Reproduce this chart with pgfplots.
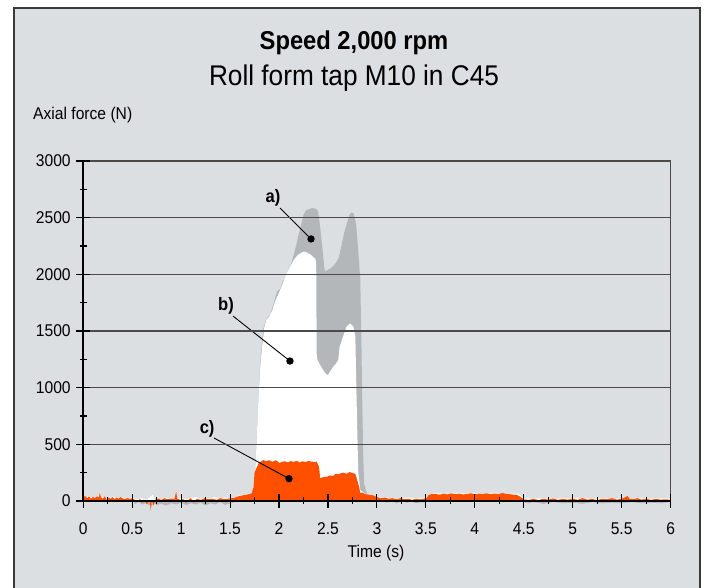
\documentclass[border=0pt]{standalone}
\usepackage{fontspec}
\setmainfont{Liberation Sans}[FakeStretch=0.92]
\usepackage{pgfplots}
\pgfplotsset{compat=1.18}
\definecolor{bg}{HTML}{DCDFE2}
\definecolor{agrey}{HTML}{B4B7BA}
\definecolor{corange}{HTML}{FF5000}
\definecolor{gridc}{HTML}{4A4A4A}
\definecolor{framec}{HTML}{3A3A3A}
\begin{document}
\begin{tikzpicture}[x=1pt,y=1pt]
\useasboundingbox (0,0) rectangle (706,588);
\fill[bg] (14,0) rectangle (700,580);
\draw[framec, line width=2.2] (14,0) -- (14,580) -- (700,580) -- (700,0);
\node[font=\bfseries\fontsize{25.8}{30}\selectfont] at (354,545) {Speed 2,000 rpm};
\node[font=\fontsize{28.5}{32}\selectfont] at (354,510) {Roll form tap M10 in C45};
\node[font=\fontsize{17}{20}\selectfont, anchor=west, inner sep=0pt] at (33,473) {Axial force (N)};
\node[font=\fontsize{17}{20}\selectfont] at (376,35) {Time (s)};
\begin{axis}[
  at={(83.2pt,87pt)}, anchor=south west,
  width=587.4pt, height=340pt, scale only axis,
  xmin=0, xmax=6, ymin=0, ymax=3000,
  clip=false, axis on top,
  axis x line*=bottom, axis y line*=left,
  axis line style={black, line width=2pt},
  xtick={0,0.5,...,6}, ytick={0,500,...,3000},
  minor x tick num=1, minor y tick num=1,
  tick align=center,
  major tick length=14pt, minor tick length=7pt,
  every tick/.style={black, line width=1.1pt},
  ymajorgrids, major grid style={gridc, line width=1.2pt},
  tick label style={font=\fontsize{17}{20}\selectfont},
  xticklabel style={yshift=-11pt},
  yticklabel style={xshift=-2pt},
  /pgf/number format/.cd, 1000 sep={}, assume math mode=true,
]
\addplot[fill=agrey, draw=none] coordinates {
(0,15)(0.05,10)(0.1,20)(0.15,5)(0.2,25)(0.25,10)(0.3,20)(0.35,15)(0.4,25)(0.45,15)(0.5,10)(0.53,-25)(0.57,-10)(0.6,-30)(0.64,-20)(0.7,-45)(0.72,-15)(0.75,-35)(0.8,-25)(0.85,-40)(0.9,-20)(0.95,-30)(1.0,-15)(1.05,-35)(1.1,-20)(1.15,-30)(1.2,-15)(1.25,-40)(1.3,-20)(1.35,-30)(1.4,-10)(1.45,-35)(1.5,-20)(1.55,-10)(1.6,10)(1.65,20)(1.7,40)(1.73,80)(1.75,150)(1.78,700)(1.81,1250)(1.84,1520)(1.87,1610)(1.91,1645)(1.94,1730)(1.96,1790)(1.98,1850)(2.01,1870)(2.04,1940)(2.06,1965)(2.10,2040)(2.13,2110)(2.15,2170)(2.18,2270)(2.20,2350)(2.23,2450)(2.25,2525)(2.28,2568)(2.31,2575)(2.34,2585)(2.37,2580)(2.39,2570)(2.40,2550)(2.42,2420)(2.44,2260)(2.46,2080)(2.47,2025)(2.50,2040)(2.53,2055)(2.55,2070)(2.58,2100)(2.61,2145)(2.64,2260)(2.67,2380)(2.70,2470)(2.72,2525)(2.74,2545)(2.76,2540)(2.78,2480)(2.79,2420)(2.81,2200)(2.83,1960)(2.84,1500)(2.85,900)(2.86,400)(2.87,150)(2.9,60)(2.95,40)(3.0,30)(3.05,10)(3.1,-15)(3.15,5)(3.2,-20)(3.25,0)(3.3,-15)(3.35,-5)(3.4,-20)(3.45,-10)(3.5,-15)(3.55,20)(3.6,30)(3.7,35)(3.8,30)(3.9,35)(4.0,30)(4.1,35)(4.2,30)(4.3,35)(4.4,30)(4.5,-10)(4.55,-20)(4.6,-10)(4.7,-25)(4.8,-10)(4.9,-20)(5.0,-15)(5.1,-25)(5.2,-10)(5.3,-20)(5.4,-15)(5.5,-20)(5.6,-10)(5.7,-20)(5.8,-15)(5.9,-20)(6.0,-10)
} \closedcycle;
\addplot[fill=white, draw=none] coordinates {
(0,25)(0.05,40)(0.1,30)(0.15,20)(0.2,35)(0.25,15)(0.3,40)(0.35,25)(0.4,35)(0.45,20)(0.5,30)(0.55,15)(0.6,25)(0.65,10)(0.71,55)(0.73,10)(0.8,20)(0.85,30)(0.9,15)(0.95,25)(1.0,30)(1.05,15)(1.1,25)(1.15,35)(1.2,20)(1.25,30)(1.3,25)(1.35,35)(1.4,20)(1.45,30)(1.5,25)(1.55,35)(1.6,50)(1.65,60)(1.7,65)(1.73,80)(1.75,150)(1.77,500)(1.79,900)(1.81,1200)(1.83,1380)(1.85,1530)(1.87,1600)(1.90,1625)(1.93,1680)(1.96,1760)(1.99,1818)(2.03,1900)(2.07,1990)(2.11,2060)(2.15,2126)(2.19,2170)(2.22,2185)(2.25,2200)(2.28,2195)(2.31,2180)(2.33,2170)(2.35,2150)(2.37,2140)(2.38,2100)(2.385,1300)(2.39,1250)(2.42,1200)(2.45,1156)(2.48,1120)(2.50,1112)(2.52,1140)(2.555,1185)(2.58,1210)(2.605,1244)(2.62,1362)(2.65,1440)(2.69,1538)(2.725,1568)(2.76,1538)(2.78,1450)(2.79,1000)(2.80,600)(2.81,250)(2.83,100)(2.87,70)(2.9,50)(2.95,45)(3.0,35)(3.1,30)(3.2,25)(3.3,30)(3.4,25)(3.5,30)(3.55,60)(3.6,70)(3.7,65)(3.8,72)(3.9,68)(4.0,70)(4.1,66)(4.2,72)(4.3,68)(4.4,65)(4.45,60)(4.5,25)(4.6,20)(4.7,25)(4.8,20)(4.9,25)(5.0,20)(5.1,25)(5.2,20)(5.3,25)(5.4,20)(5.5,25)(5.6,20)(5.7,25)(5.8,20)(5.9,25)(6.0,20)
} \closedcycle;
\addplot[fill=corange, draw=none] coordinates {
(0,30)(0.02,45)(0.04,25)(0.06,40)(0.08,20)(0.1,35)(0.12,25)(0.14,40)(0.16,30)(0.17,70)(0.18,35)(0.2,20)(0.22,40)(0.24,10)(0.26,30)(0.28,20)(0.3,35)(0.32,15)(0.34,30)(0.36,20)(0.38,35)(0.4,25)(0.42,15)(0.45,25)(0.48,20)(0.5,25)(0.52,15)(0.55,-10)(0.58,20)(0.6,-20)(0.62,15)(0.65,-30)(0.68,10)(0.69,-86)(0.7,10)(0.72,-40)(0.74,15)(0.77,20)(0.8,10)(0.83,25)(0.86,15)(0.9,20)(0.93,15)(0.95,82)(0.96,20)(0.99,10)(1.02,20)(1.05,-20)(1.08,15)(1.1,25)(1.13,-15)(1.16,20)(1.2,10)(1.24,25)(1.28,15)(1.32,20)(1.36,10)(1.4,25)(1.44,15)(1.48,20)(1.52,25)(1.55,30)(1.57,38)(1.6,45)(1.63,50)(1.66,55)(1.69,60)(1.72,68)(1.74,120)(1.75,250)(1.77,290)(1.79,330)(1.81,345)(1.84,362)(1.87,350)(1.9,360)(1.93,345)(1.96,358)(1.98,356)(2.0,335)(2.03,345)(2.06,350)(2.09,340)(2.12,352)(2.15,345)(2.18,355)(2.21,340)(2.24,350)(2.27,345)(2.3,352)(2.33,348)(2.36,345)(2.385,347)(2.41,300)(2.42,200)(2.45,210)(2.49,214)(2.52,225)(2.55,220)(2.58,240)(2.61,235)(2.64,248)(2.66,250)(2.69,240)(2.72,255)(2.76,244)(2.78,240)(2.8,180)(2.82,120)(2.83,70)(2.85,75)(2.88,60)(2.92,55)(2.96,50)(3.0,35)(3.04,25)(3.08,30)(3.12,20)(3.16,25)(3.2,15)(3.24,25)(3.28,15)(3.32,20)(3.36,10)(3.4,20)(3.44,15)(3.48,20)(3.51,30)(3.53,55)(3.56,60)(3.6,62)(3.64,55)(3.68,65)(3.72,58)(3.76,68)(3.8,60)(3.84,65)(3.88,58)(3.92,62)(3.96,68)(4.0,60)(4.04,65)(4.08,62)(4.12,68)(4.16,60)(4.2,66)(4.24,62)(4.28,70)(4.32,64)(4.36,60)(4.4,55)(4.43,53)(4.46,40)(4.5,15)(4.55,10)(4.6,18)(4.65,8)(4.7,20)(4.75,12)(4.8,22)(4.85,10)(4.9,18)(4.95,12)(5.0,20)(5.05,10)(5.1,25)(5.15,12)(5.2,18)(5.25,8)(5.3,20)(5.35,15)(5.4,25)(5.45,12)(5.5,20)(5.53,30)(5.56,44)(5.58,20)(5.62,15)(5.66,25)(5.7,12)(5.75,20)(5.8,10)(5.85,18)(5.9,12)(5.95,15)(6.0,10)
} \closedcycle;
\draw[gridc, line width=1.2pt] (axis cs:6,0) -- (axis cs:6,3000);
\addplot[black, line width=0.9pt, mark=*, mark size=3.2pt, mark indices={2}] coordinates {(2.01,2585)(2.327,2312)};
\addplot[black, line width=0.9pt, mark=*, mark size=3.2pt, mark indices={2}] coordinates {(1.53,1632)(2.112,1235)};
\addplot[black, line width=0.9pt, mark=*, mark size=3.2pt, mark indices={2}] coordinates {(1.336,556)(2.102,197)};
\node[font=\bfseries\fontsize{18}{20}\selectfont] at (axis cs:1.939,2674) {a)};
\node[font=\bfseries\fontsize{18}{20}\selectfont] at (axis cs:1.459,1721) {b)};
\node[font=\bfseries\fontsize{18}{20}\selectfont] at (axis cs:1.266,635) {c)};
\end{axis}
\end{tikzpicture}
\end{document}
